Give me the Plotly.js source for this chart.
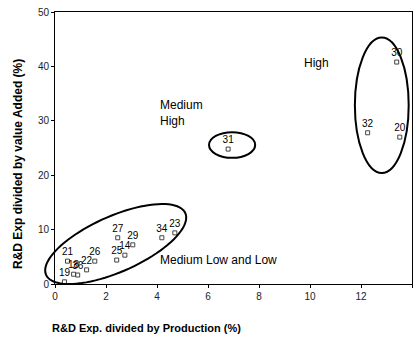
<!DOCTYPE html>
<html>
<head>
<meta charset="utf-8">
<script src="https://cdn.plot.ly/plotly-3.0.1.min.js"></script>
<style>
html,body{margin:0;padding:0;background:#fff;}
#chart{width:415px;height:343px;}
</style>
</head>
<body>
<div id="chart"></div>
<script>
// Data
const industryLabels = ["19","21","18","36","22","26","25","14","27","29","34","23","31","32","20","30"];
const rdByProduction = [0.37,0.49,0.73,0.89,1.24,1.56,2.42,2.74,2.46,3.05,4.19,4.70,6.79,12.26,13.52,13.40];
const rdByValueAdded = [0.4,4.2,1.8,1.65,2.6,4.2,4.4,5.3,8.5,7.2,8.5,9.4,24.8,27.8,27.0,40.8];
const xTicks = [0,2,4,6,8,10,12,14];
const yTicks = [0,10,20,30,40,50];
const xRange = [0, 14];
const yRange = [0, 50];

const FONT = "Arial, 'Liberation Sans', sans-serif";

// convert data units to paper fraction (so group outlines are not clipped at the axes)
const px = v => (v - xRange[0]) / (xRange[1] - xRange[0]);
const py = v => (v - yRange[0]) / (yRange[1] - yRange[0]);

// rotated ellipse (Medium Low and Low group) as a path
function ellipsePath(cx, cy, ux, uy, vx, vy) {
  let d = "";
  const n = 90;
  for (let i = 0; i <= n; i++) {
    const t = 2 * Math.PI * i / n;
    const x = px(cx + ux * Math.cos(t) + vx * Math.sin(t));
    const y = py(cy + uy * Math.cos(t) + vy * Math.sin(t));
    d += (i === 0 ? "M" : "L") + x.toFixed(4) + "," + y.toFixed(4);
  }
  return d + "Z";
}

const trace = {
  x: rdByProduction,
  y: rdByValueAdded,
  text: industryLabels,
  mode: "markers+text",
  type: "scatter",
  textposition: "top center",
  textfont: {family: FONT, size: 10, color: "#000"},
  marker: {symbol: "square-open", size: 4, color: "#444", line: {width: 1, color: "#444"}},
  cliponaxis: false,
  hoverinfo: "none"
};

const ellipseLine = {color: "#000", width: 2};

const layout = {
  width: 415, height: 343,
  margin: {l: 55, r: 3, t: 12, b: 59},
  paper_bgcolor: "#fff", plot_bgcolor: "#fff",
  showlegend: false,
  font: {family: FONT, size: 10, color: "#000"},
  xaxis: {
    range: xRange, tickvals: xTicks, ticktext: xTicks.map(String),
    showgrid: false, zeroline: false,
    showline: true, linecolor: "#000", linewidth: 1, mirror: true,
    ticks: "outside", ticklen: 3, tickcolor: "#000",
    tickfont: {family: FONT, size: 10, color: "#222"}
  },
  yaxis: {
    range: yRange, tickvals: yTicks, ticktext: yTicks.map(String),
    showgrid: false, zeroline: false,
    showline: true, linecolor: "#000", linewidth: 1, mirror: true,
    ticks: "outside", ticklen: 3, tickcolor: "#000",
    tickfont: {family: FONT, size: 10, color: "#222"}
  },
  shapes: [
    {type: "path", xref: "paper", yref: "paper",
     path: ellipsePath(2.38, 7.35, 2.73, 5.68, -0.445, 4.67),
     line: ellipseLine},
    {type: "circle", xref: "paper", yref: "paper", x0: px(6.04), x1: px(7.85), y0: py(23.2), y1: py(27.9), line: ellipseLine},
    {type: "circle", xref: "paper", yref: "paper", x0: px(11.76), x1: px(13.87), y0: py(20.4), y1: py(45.3), line: ellipseLine}
  ],
  annotations: [
    {text: "Medium<br>High", xref: "paper", yref: "paper", x: (158-55)/357, y: (284-96)/272,
     xanchor: "left", yanchor: "top", align: "left", showarrow: false,
     font: {family: FONT, size: 12, color: "#000"}},
    {text: "High", xref: "paper", yref: "paper", x: (302-55)/357, y: (284-54)/272,
     xanchor: "left", yanchor: "top", showarrow: false,
     font: {family: FONT, size: 12, color: "#000"}},
    {text: "Medium Low and Low", xref: "paper", yref: "paper", x: (158-55)/357, y: (284-251)/272,
     xanchor: "left", yanchor: "top", showarrow: false,
     font: {family: FONT, size: 12, color: "#000"}},
    {text: "<b>R&D Exp. divided by Production (%)</b>", xref: "paper", yref: "paper",
     x: (50-55)/357, y: (284-328)/272, xanchor: "left", yanchor: "middle", showarrow: false,
     font: {family: FONT, size: 11, color: "#000"}},
    {text: "<b>R&D Exp divided by value Added (%)</b>", xref: "paper", yref: "paper",
     x: (18-55)/357, y: (284-164)/272, xanchor: "center", yanchor: "middle", textangle: -90,
     showarrow: false, font: {family: FONT, size: 12, color: "#000"}}
  ]
};

Plotly.newPlot("chart", [trace], layout, {staticPlot: true, displayModeBar: false});
</script>
</body>
</html>
